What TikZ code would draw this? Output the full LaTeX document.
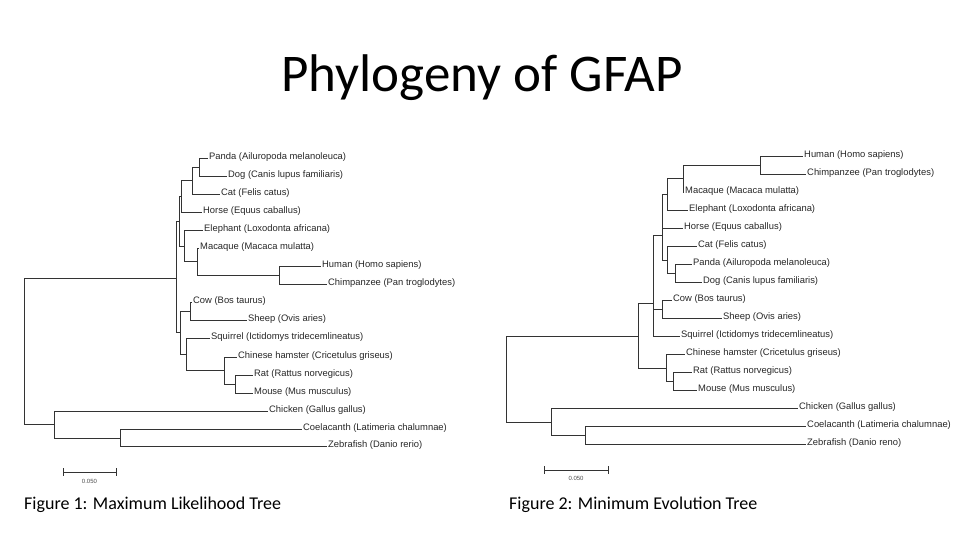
\documentclass[tikz,border=0pt]{standalone}
\usepackage{fontspec}
\setmainfont{Carlito}
\newfontfamily\leaffont{Liberation Sans}
\begin{document}
\begin{tikzpicture}[x=1pt, y=-1pt,
    branch/.style={draw=black!80, line width=0.6pt},
    leaf/.style={anchor=west, inner sep=1pt, yshift=0.5pt, font=\leaffont\fontsize{9.4}{10}\selectfont, text=black!85},
    caption/.style={anchor=west, inner sep=0pt, font=\fontsize{18}{20}\selectfont}]
  \useasboundingbox (0,0) rectangle (960,540);
  % Title
  \node[font=\fontsize{53}{56}\selectfont] (title) at (482,78) {Phylogeny of GFAP};

  % Figure 1: tips and internal nodes
  \coordinate (pa1) at (208,158); \coordinate (do1) at (227,176);
  \coordinate (ca1) at (220,194); \coordinate (ho1) at (202,212);
  \coordinate (el1) at (203,230); \coordinate (ma1) at (199,248);
  \coordinate (hu1) at (321,266); \coordinate (ch1) at (327,284);
  \coordinate (co1) at (192,302); \coordinate (sh1) at (247,320);
  \coordinate (sq1) at (210,338); \coordinate (ha1) at (237,357);
  \coordinate (ra1) at (253,375); \coordinate (mo1) at (253,393);
  \coordinate (ck1) at (268,411); \coordinate (cl1) at (302,429);
  \coordinate (ze1) at (327,446);
  \coordinate (pd1) at (199,167); \coordinate (pdc1) at (192,180);
  \coordinate (car1) at (181,196); \coordinate (hc1) at (279,275);
  \coordinate (mhc1) at (197,261); \coordinate (emh1) at (184,246);
  \coordinate (up1) at (179,221); \coordinate (cs1) at (190,311);
  \coordinate (rm1) at (235,384); \coordinate (hrm1) at (224,370);
  \coordinate (sqr1) at (186,354); \coordinate (lo1) at (180,332);
  \coordinate (mam1) at (176,278); \coordinate (czf1) at (120,438);
  \coordinate (fi1) at (54,424); \coordinate (root1) at (24,351);
  \foreach \p/\c in {pd1/pa1, pd1/do1, pdc1/pd1, pdc1/ca1, car1/pdc1, car1/ho1,
      hc1/hu1, hc1/ch1, mhc1/ma1, mhc1/hc1, emh1/el1, emh1/mhc1, up1/car1, up1/emh1,
      cs1/co1, cs1/sh1, rm1/ra1, rm1/mo1, hrm1/ha1, hrm1/rm1, sqr1/sq1, sqr1/hrm1,
      lo1/cs1, lo1/sqr1, mam1/up1, mam1/lo1, czf1/cl1, czf1/ze1, fi1/ck1, fi1/czf1,
      root1/mam1, root1/fi1}
    \draw[branch] (\p) |- (\c);
  \node[leaf] (pan1) at (pa1) {Panda (Ailuropoda melanoleuca)};
  \node[leaf] (dog1) at (do1) {Dog (Canis lupus familiaris)};
  \node[leaf] (cat1) at (ca1) {Cat (Felis catus)};
  \node[leaf] (hor1) at (ho1) {Horse (Equus caballus)};
  \node[leaf] (ele1) at (el1) {Elephant (Loxodonta africana)};
  \node[leaf] (mac1) at (ma1) {Macaque (Macaca mulatta)};
  \node[leaf] (hum1) at (hu1) {Human (Homo sapiens)};
  \node[leaf] (chi1) at (ch1) {Chimpanzee (Pan troglodytes)};
  \node[leaf] (cow1) at (co1) {Cow (Bos taurus)};
  \node[leaf] (she1) at (sh1) {Sheep (Ovis aries)};
  \node[leaf] (squ1) at (sq1) {Squirrel (Ictidomys tridecemlineatus)};
  \node[leaf] (ham1) at (ha1) {Chinese hamster (Cricetulus griseus)};
  \node[leaf] (rat1) at (ra1) {Rat (Rattus norvegicus)};
  \node[leaf] (mou1) at (mo1) {Mouse (Mus musculus)};
  \node[leaf] (chk1) at (ck1) {Chicken (Gallus gallus)};
  \node[leaf] (coe1) at (cl1) {Coelacanth (Latimeria chalumnae)};
  \node[leaf] (zeb1) at (ze1) {Zebrafish (Danio rerio)};
  % scale bar
  \draw[branch] (63,468) -- (63,476) (63,472) -- (116,472) (116,468) -- (116,476);
  \node[font=\leaffont\fontsize{6}{7}\selectfont, text=black!70] (bar1) at (89.5,481) {0.050};
  \node[caption] (cap1) at (24,505) {Figure 1: Maximum Likelihood Tree};

  % Figure 2: tips and internal nodes
  \coordinate (hu2) at (803,156); \coordinate (ch2) at (806,174);
  \coordinate (ma2) at (684,192); \coordinate (el2) at (688,210);
  \coordinate (ho2) at (683,228); \coordinate (ca2) at (697,246);
  \coordinate (pa2) at (692,264); \coordinate (do2) at (702,282);
  \coordinate (co2) at (672,300); \coordinate (sh2) at (722,318);
  \coordinate (sq2) at (680,336); \coordinate (ha2) at (685,354);
  \coordinate (ra2) at (692,372); \coordinate (mo2) at (697,390);
  \coordinate (ck2) at (798,408); \coordinate (cl2) at (806,426);
  \coordinate (ze2) at (806,444);
  \coordinate (hc2) at (760,165); \coordinate (hcm2) at (683,178);
  \coordinate (hme2) at (667,194); \coordinate (pd2) at (675,273);
  \coordinate (cpd2) at (667,260); \coordinate (up2) at (662,235);
  \coordinate (cs2) at (662,309); \coordinate (la2) at (653,303);
  \coordinate (rm2) at (673,381); \coordinate (hrm2) at (666,368);
  \coordinate (mam2) at (638,336); \coordinate (czf2) at (585,435);
  \coordinate (fi2) at (551,422); \coordinate (root2) at (506,380);
  \foreach \p/\c in {hc2/hu2, hc2/ch2, hcm2/hc2, hcm2/ma2, hme2/hcm2, hme2/el2,
      pd2/pa2, pd2/do2, cpd2/ca2, cpd2/pd2, up2/hme2, up2/ho2, up2/cpd2,
      cs2/co2, cs2/sh2, la2/up2, la2/cs2, la2/sq2, rm2/ra2, rm2/mo2,
      hrm2/ha2, hrm2/rm2, mam2/la2, mam2/hrm2, czf2/cl2, czf2/ze2,
      fi2/ck2, fi2/czf2, root2/mam2, root2/fi2}
    \draw[branch] (\p) |- (\c);
  \node[leaf] (hum2) at (hu2) {Human (Homo sapiens)};
  \node[leaf] (chi2) at (ch2) {Chimpanzee (Pan troglodytes)};
  \node[leaf] (mac2) at (ma2) {Macaque (Macaca mulatta)};
  \node[leaf] (ele2) at (el2) {Elephant (Loxodonta africana)};
  \node[leaf] (hor2) at (ho2) {Horse (Equus caballus)};
  \node[leaf] (cat2) at (ca2) {Cat (Felis catus)};
  \node[leaf] (pan2) at (pa2) {Panda (Ailuropoda melanoleuca)};
  \node[leaf] (dog2) at (do2) {Dog (Canis lupus familiaris)};
  \node[leaf] (cow2) at (co2) {Cow (Bos taurus)};
  \node[leaf] (she2) at (sh2) {Sheep (Ovis aries)};
  \node[leaf] (squ2) at (sq2) {Squirrel (Ictidomys tridecemlineatus)};
  \node[leaf] (ham2) at (ha2) {Chinese hamster (Cricetulus griseus)};
  \node[leaf] (rat2) at (ra2) {Rat (Rattus norvegicus)};
  \node[leaf] (mou2) at (mo2) {Mouse (Mus musculus)};
  \node[leaf] (chk2) at (ck2) {Chicken (Gallus gallus)};
  \node[leaf] (coe2) at (cl2) {Coelacanth (Latimeria chalumnae)};
  \node[leaf] (zeb2) at (ze2) {Zebrafish (Danio reno)};
  % scale bar
  \draw[branch] (544,466) -- (544,474) (544,470) -- (608,470) (608,466) -- (608,474);
  \node[font=\leaffont\fontsize{6}{7}\selectfont, text=black!70] (bar2) at (576,478) {0.050};
  \node[caption] (cap2) at (509,505) {Figure 2: Minimum Evolution Tree};
\end{tikzpicture}
\end{document}
